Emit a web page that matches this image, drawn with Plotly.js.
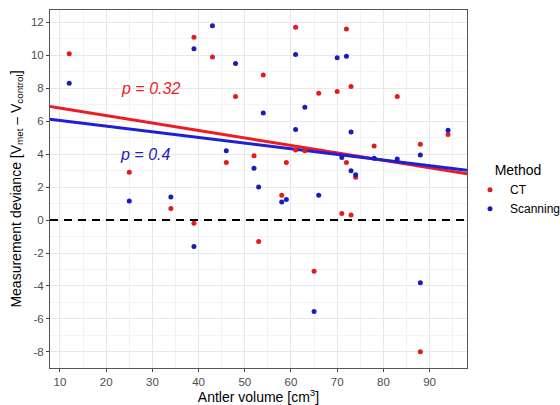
<!DOCTYPE html>
<html>
<head>
<meta charset="utf-8">
<script src="https://cdn.plot.ly/plotly-3.0.1.min.js"></script>
<style>body{margin:0;padding:0;background:#fff}#chart{width:560px;height:405px}</style>
</head>
<body>
<div id="chart"></div>
<script>
// CT measurements
const ctVolume = [12, 25, 34, 39, 39, 43, 46, 48, 52, 53, 54, 58, 59, 61, 61, 63, 65, 66, 70, 71, 72, 72, 73, 73, 74, 78, 83, 88, 88, 94];
const ctDeviance = [10.1, 2.9, 0.7, 11.1, -0.2, 9.9, 3.5, 7.5, 3.9, -1.3, 8.8, 1.5, 3.5, 11.7, 4.25, 4.2, -3.1, 7.7, 7.8, 0.4, 11.6, 3.5, 8.1, 0.3, 2.6, 4.5, 7.5, 4.6, -8.0, 5.2];
// Scanning measurements
const scanVolume = [12, 25, 34, 39, 39, 43, 46, 48, 52, 53, 54, 58, 59, 61, 61, 63, 65, 66, 70, 71, 72, 73, 73, 74, 78, 83, 88, 88, 94];
const scanDeviance = [8.3, 1.15, 1.4, 10.4, -1.6, 11.8, 4.2, 9.5, 3.15, 2.0, 6.5, 1.1, 1.25, 10.05, 5.5, 6.85, -5.55, 1.5, 9.85, 3.8, 9.95, 5.35, 3.0, 2.75, 3.75, 3.7, 3.95, -3.8, 5.45];
// Fitted regression lines (intercept, slope)
const ctFit = [7.24, -0.0451];
const scanFit = [6.39, -0.0343];
const pLabels = ["p = 0.32", "p = 0.4"];
const xRange = [7.84, 98.1];
const yRange = [-8.98, 12.75];
const xTicks = [10, 20, 30, 40, 50, 60, 70, 80, 90];
const yTicks = [-8, -6, -4, -2, 0, 2, 4, 6, 8, 10, 12];
const yTickText = ["-8", "-6", "-4", "-2", "0", "2", "4", "6", "8", "10", "12"];

const red = "#e41a1c", blue = "#1a1ac0";
const lineRed = "#ec1c24", lineBlue = "#1f1fd6";
function fitLine(fit) { return xRange.map(x => fit[0] + fit[1] * x); }

const traces = [
  {x: xRange, y: [0, 0], mode: "lines", line: {color: "#000", width: 2, dash: "8px,6px"}, showlegend: false, hoverinfo: "skip"},
  {x: xRange, y: fitLine(ctFit), mode: "lines", line: {color: lineRed, width: 3}, showlegend: false, hoverinfo: "skip"},
  {x: xRange, y: fitLine(scanFit), mode: "lines", line: {color: lineBlue, width: 3}, showlegend: false, hoverinfo: "skip"},
  {x: ctVolume, y: ctDeviance, mode: "markers", name: "CT", marker: {color: red, size: 5}},
  {x: scanVolume, y: scanDeviance, mode: "markers", name: "Scanning", marker: {color: blue, size: 5}}
];

const font = "Liberation Sans, Arial, sans-serif";
const layout = {
  width: 560, height: 405,
  margin: {l: 50, r: 93, t: 10, b: 37, autoexpand: false},
  paper_bgcolor: "#fff", plot_bgcolor: "#fff",
  font: {family: font, color: "#000"},
  xaxis: {
    range: xRange, tickvals: xTicks, ticks: "outside", ticklen: 3, tickcolor: "#444",
    tickfont: {size: 11.5, color: "#4d4d4d", family: font},
    showgrid: true, gridcolor: "#e8e8e8", gridwidth: 1,
    minor: {dtick: 5, showgrid: true, gridcolor: "#f3f3f3", gridwidth: 1, tick0: 5},
    zeroline: false, showline: true, mirror: true, linecolor: "#555", linewidth: 1,
    title: {text: "Antler volume [cm<sup>3</sup>]", font: {size: 14, family: font, color: "#000"}, standoff: 4}
  },
  yaxis: {
    range: yRange, tickvals: yTicks, ticktext: yTickText, ticks: "outside", ticklen: 3, tickcolor: "#444",
    tickfont: {size: 11.5, color: "#4d4d4d", family: font},
    showgrid: true, gridcolor: "#e8e8e8", gridwidth: 1,
    minor: {dtick: 1, showgrid: true, gridcolor: "#f3f3f3", gridwidth: 1, tick0: 1},
    zeroline: false, showline: true, mirror: true, linecolor: "#555", linewidth: 1,
    title: {text: "Measurement deviance [V<sub>met</sub> \u2013 V<sub>control</sub>]", font: {size: 14, family: font, color: "#000"}, standoff: 6}
  },
  legend: {
    xref: "container", yref: "container",
    x: 470 / 560, xanchor: "left", y: 1 - 157 / 405, yanchor: "top",
    title: {text: "Method", side: "top center", font: {size: 14, family: font, color: "#000"}},
    font: {size: 12, family: font, color: "#000"},
    itemsizing: "trace", tracegroupgap: 2, bgcolor: "rgba(0,0,0,0)"
  },
  annotations: [
    {x: 29.6, y: 8.0, xref: "x", yref: "y", text: "<i>" + pLabels[0] + "</i>", showarrow: false, font: {size: 16, color: lineRed, family: font}},
    {x: 28.4, y: 3.95, xref: "x", yref: "y", text: "<i>" + pLabels[1] + "</i>", showarrow: false, font: {size: 16, color: "#2020c0", family: font}}
  ],
  showlegend: true
};
Plotly.newPlot("chart", traces, layout, {displayModeBar: false, staticPlot: true});
</script>
</body>
</html>
